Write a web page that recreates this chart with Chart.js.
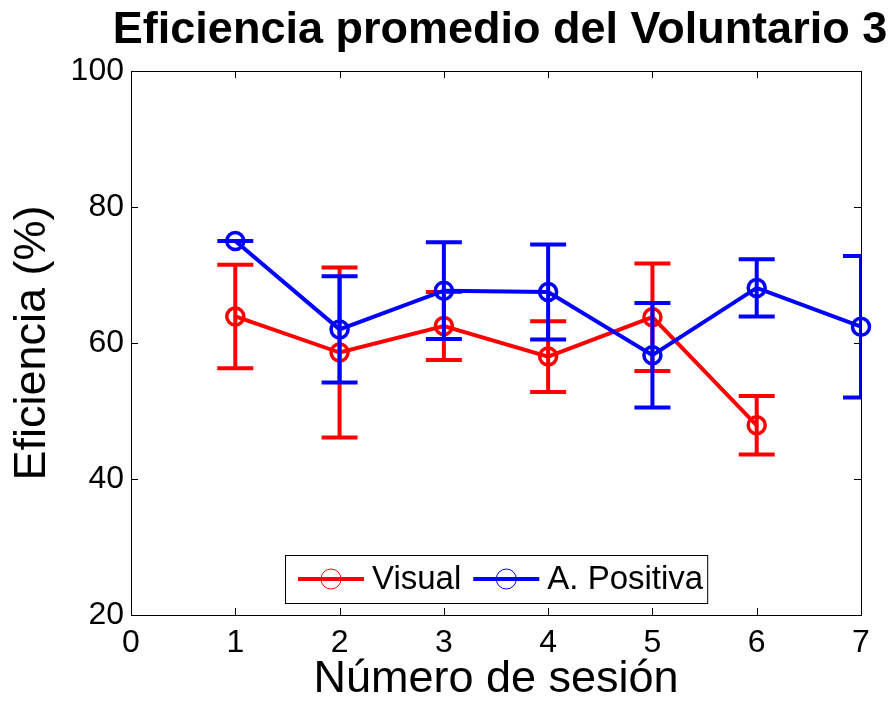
<!DOCTYPE html>
<html>
<head>
<meta charset="utf-8">
<script src="https://cdn.jsdelivr.net/npm/chart.js@4/dist/chart.umd.min.js"></script>
<style>
  html, body { margin: 0; padding: 0; background: #fff; }
  #wrap { width: 892px; height: 702px; }
</style>
</head>
<body>
<div id="wrap"><canvas id="chart" width="892" height="702"></canvas></div>
<script>
// ---- Data ----
const sessions = [1, 2, 3, 4, 5, 6, 7];
const visual = [63.9, 58.6, 62.5, 58.0, 63.8, 47.9];
const visualErr = [7.6, 12.5, 5.0, 5.2, 7.9, 4.3];
const positiva = [75.0, 62.0, 67.7, 67.5, 58.2, 68.1, 62.4];
const positivaErr = [0, 7.8, 7.1, 7.0, 7.7, 4.2, 10.4];
const xTicks = [0, 1, 2, 3, 4, 5, 6, 7];
const yTicks = [20, 40, 60, 80, 100];
const labels = ["Visual", "A. Positiva"];
const titleText = "Eficiencia promedio del Voluntario 3";

const FONT = "'Liberation Sans', Arial, Helvetica, sans-serif";
const RED = "#ff0000";
const BLUE = "#0000ff";

const toPoints = (ys) => ys.map((v, i) => ({x: sessions[i], y: v}));

// ---- Plugins ----
// title wider than the axes, so draw it without the built-in maxWidth squeeze
const wideTitle = {
  id: "wideTitle",
  afterDraw(chart) {
    const {ctx, chartArea: a} = chart;
    ctx.save();
    ctx.font = "bold 45px " + FONT;
    ctx.fillStyle = "#000";
    ctx.textAlign = "center";
    ctx.textBaseline = "alphabetic";
    ctx.fillText(titleText, (a.left + a.right) / 2 + 4, 43);
    ctx.restore();
  }
};

// axes box with inward ticks on all four sides (matlab style)
const axesBox = {
  id: "axesBox",
  beforeDatasetsDraw(chart) {
    const {ctx, chartArea: a, scales: {x, y}} = chart;
    ctx.save();
    ctx.strokeStyle = "#000";
    ctx.lineWidth = 1;
    ctx.beginPath();
    x.ticks.forEach(t => {
      const px = Math.round(x.getPixelForValue(t.value)) + 0.5;
      ctx.moveTo(px, a.bottom); ctx.lineTo(px, a.bottom - 7);
      ctx.moveTo(px, a.top); ctx.lineTo(px, a.top + 7);
    });
    y.ticks.forEach(t => {
      const py = Math.round(y.getPixelForValue(t.value)) + 0.5;
      ctx.moveTo(a.left, py); ctx.lineTo(a.left + 7, py);
      ctx.moveTo(a.right, py); ctx.lineTo(a.right - 7, py);
    });
    ctx.stroke();
    ctx.strokeRect(Math.round(a.left) + 0.5, Math.round(a.top) + 0.5,
      Math.round(a.right - a.left), Math.round(a.bottom - a.top));
    ctx.restore();
  }
};

// vertical error bars with caps, drawn just before each dataset's line
const errorBars = {
  id: "errorBars",
  beforeDatasetDraw(chart, args) {
    const ds = chart.data.datasets[args.index];
    if (!ds.errors) return;
    const {ctx, chartArea: a, scales: {x, y}} = chart;
    const cap = 18;
    ctx.save();
    ctx.beginPath();
    ctx.rect(a.left, a.top, a.right - a.left, a.bottom - a.top);
    ctx.clip();
    ctx.strokeStyle = ds.borderColor;
    ctx.lineWidth = 4;
    ds.data.forEach((p, i) => {
      const px = x.getPixelForValue(p.x);
      const top = y.getPixelForValue(p.y + ds.errors[i]);
      const bot = y.getPixelForValue(p.y - ds.errors[i]);
      ctx.beginPath();
      ctx.moveTo(px, top); ctx.lineTo(px, bot);
      ctx.moveTo(px - cap, top); ctx.lineTo(px + cap, top);
      ctx.moveTo(px - cap, bot); ctx.lineTo(px + cap, bot);
      ctx.stroke();
    });
    ctx.restore();
  }
};

// boxed legend at the bottom centre of the axes
const boxLegend = {
  id: "boxLegend",
  afterDraw(chart) {
    const {ctx, chartArea: a} = chart;
    const items = chart.data.datasets;
    ctx.save();
    ctx.font = "33px " + FONT;
    const widths = items.map(d => ctx.measureText(d.label).width);
    const padL = 13, lineW = 66, gapT = 8, gapItem = 12, padR = 4;
    const total = padL + widths.reduce((s, w) => s + lineW + gapT + w, 0) + gapItem * (items.length - 1) + padR;
    const h = 48;
    const left = Math.round((a.left + a.right) / 2 - total / 2);
    const top = Math.round(a.bottom - 12 - h);
    ctx.fillStyle = "#fff";
    ctx.fillRect(left, top, total, h);
    ctx.strokeStyle = "#000";
    ctx.lineWidth = 1;
    ctx.strokeRect(left + 0.5, top + 0.5, total, h);
    const cy = top + h / 2;
    let cx = left + padL;
    items.forEach((d, i) => {
      ctx.strokeStyle = d.borderColor;
      ctx.lineWidth = 4;
      ctx.beginPath();
      ctx.moveTo(cx, cy); ctx.lineTo(cx + lineW, cy);
      ctx.stroke();
      ctx.lineWidth = 1;
      ctx.beginPath();
      ctx.arc(cx + lineW / 2, cy, 10, 0, Math.PI * 2);
      ctx.stroke();
      cx += lineW + gapT;
      ctx.fillStyle = "#000";
      ctx.textBaseline = "middle";
      ctx.fillText(d.label, cx, cy + 1);
      cx += widths[i] + gapItem;
    });
    ctx.restore();
  }
};

// ---- Chart ----
const tickFont = {family: FONT, size: 32};
const axisTitleFont = {family: FONT, size: 45, lineHeight: 1};

new Chart(document.getElementById("chart"), {
  type: "line",
  data: {
    datasets: [
      {
        label: labels[0],
        data: toPoints(visual),
        errors: visualErr,
        borderColor: RED,
        pointBorderColor: RED,
        order: 1,
      },
      {
        label: labels[1],
        data: toPoints(positiva),
        errors: positivaErr,
        borderColor: BLUE,
        pointBorderColor: BLUE,
        order: 0,
      },
    ].map(d => ({
      ...d,
      borderWidth: 4,
      pointRadius: 8.5,
      pointBorderWidth: 3.5,
      pointBackgroundColor: "rgba(0,0,0,0)",
      pointHoverRadius: 8.5,
      tension: 0,
      fill: false,
      clip: false,
    }))
  },
  options: {
    responsive: false,
    animation: false,
    devicePixelRatio: 1,
    layout: { padding: { left: 0, right: 31, top: 71, bottom: 0 } },
    plugins: {
      legend: { display: false },
      tooltip: { enabled: false },
      title: { display: false },
    },
    scales: {
      x: {
        type: "linear",
        min: xTicks[0],
        max: xTicks[xTicks.length - 1],
        afterBuildTicks: s => { s.ticks = xTicks.map(v => ({value: v})); },
        afterFit: s => { s.height = 87; },
        grid: { display: false, drawTicks: false },
        border: { display: false },
        ticks: { color: "#000", font: tickFont, padding: 9, maxRotation: 0, autoSkip: false },
        title: { display: true, text: "Número de sesión", color: "#000", font: axisTitleFont, padding: { top: 0, bottom: 0 } },
      },
      y: {
        type: "linear",
        min: yTicks[0],
        max: yTicks[yTicks.length - 1],
        afterBuildTicks: s => { s.ticks = yTicks.map(v => ({value: v})); },
        afterFit: s => { s.width = 131; },
        grid: { display: false, drawTicks: false },
        border: { display: false },
        ticks: { color: "#000", font: tickFont, padding: 7, autoSkip: false },
        title: { display: true, text: "Eficiencia (%)", color: "#000", font: axisTitleFont, padding: { top: 10, bottom: 0 } },
      },
    },
  },
  plugins: [wideTitle, axesBox, errorBars, boxLegend],
});
</script>
</body>
</html>
